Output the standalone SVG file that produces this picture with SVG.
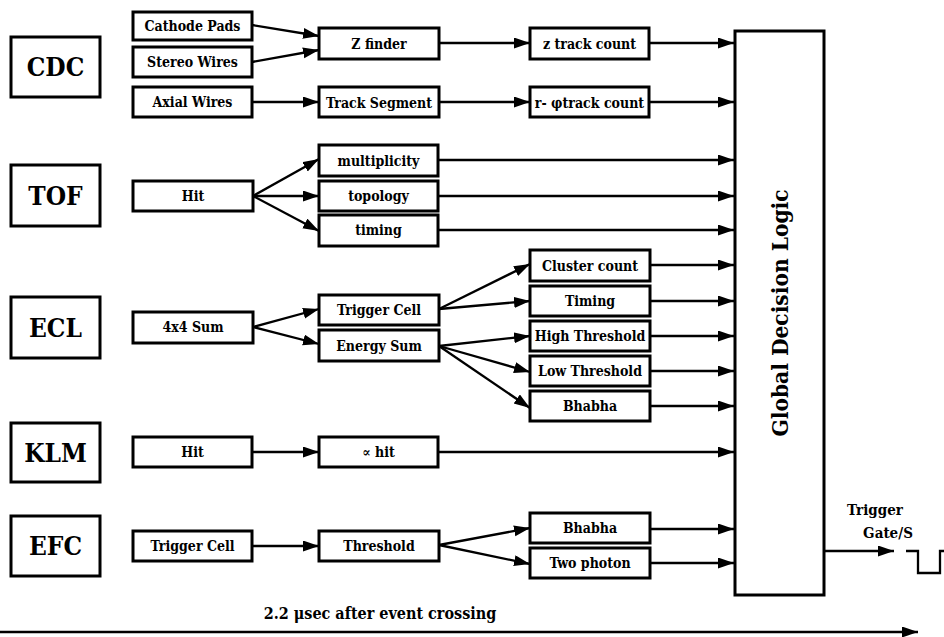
<svg xmlns="http://www.w3.org/2000/svg" width="944" height="637" viewBox="0 0 944 637">
<defs>
<marker id="ah" markerUnits="userSpaceOnUse" markerWidth="17" markerHeight="12" refX="16" refY="5.5" orient="auto">
<path d="M0,0 L16,5.5 L0,11 z" fill="#000"/>
</marker>
<style>
rect{fill:#fff;stroke:#000;stroke-width:3}
text{font-family:'DejaVu Serif Condensed','DejaVu Serif',serif;font-weight:bold}
.det{font-size:26px;text-anchor:middle}
.lb{font-size:14px;text-anchor:middle}
.c line,.c path{stroke:#000;stroke-width:2.3;fill:none}
.c .a{marker-end:url(#ah)}
</style>
</defs>
<rect x="0" y="0" width="944" height="637" style="fill:#fff;stroke:none"/>

<g id="CDC"><rect x="11" y="37" width="89" height="60"/><text class="det" x="55.5" y="76">CDC</text></g>
<g id="cathode"><rect x="133" y="12" width="119" height="28"/><text class="lb" x="192.5" y="31">Cathode Pads</text></g>
<g id="stereo"><rect x="133" y="47" width="119" height="30"/><text class="lb" x="192.5" y="67">Stereo Wires</text></g>
<g id="axial"><rect x="133" y="87" width="119" height="30"/><text class="lb" x="192.5" y="107">Axial Wires</text></g>
<g id="zfinder"><rect x="319" y="28" width="120" height="31"/><text class="lb" x="379" y="49">Z finder</text></g>
<g id="trackseg"><rect x="319" y="87" width="120" height="30"/><text class="lb" x="379" y="108">Track Segment</text></g>
<g id="ztrack"><rect x="530" y="28" width="119" height="31"/><text class="lb" x="589.5" y="49">z track count</text></g>
<g id="rphi"><rect x="530" y="87" width="119" height="30"/><text class="lb" x="589.5" y="108">r- φtrack count</text></g>

<g id="TOF"><rect x="11" y="165" width="89" height="61"/><text class="det" x="55.5" y="205">TOF</text></g>
<g id="tofhit"><rect x="133" y="181" width="120" height="30"/><text class="lb" x="193" y="201">Hit</text></g>
<g id="mult"><rect x="319" y="145" width="119" height="31"/><text class="lb" x="378.5" y="166">multiplicity</text></g>
<g id="topo"><rect x="319" y="181" width="119" height="30"/><text class="lb" x="378.5" y="201">topology</text></g>
<g id="timing"><rect x="319" y="215" width="119" height="31"/><text class="lb" x="378.5" y="235">timing</text></g>

<g id="ECL"><rect x="11" y="297" width="89" height="61"/><text class="det" x="55.5" y="337">ECL</text></g>
<g id="sum4"><rect x="133" y="312" width="120" height="31"/><text class="lb" x="193" y="332">4x4 Sum</text></g>
<g id="trigcell"><rect x="319" y="295" width="120" height="30"/><text class="lb" x="379" y="315">Trigger Cell</text></g>
<g id="esum"><rect x="319" y="330" width="120" height="31"/><text class="lb" x="379" y="351">Energy Sum</text></g>
<g id="cluster"><rect x="530" y="250" width="120" height="31"/><text class="lb" x="590" y="271">Cluster count</text></g>
<g id="ecltiming"><rect x="530" y="286" width="120" height="30"/><text class="lb" x="590" y="306">Timing</text></g>
<g id="high"><rect x="530" y="321" width="120" height="30"/><text class="lb" x="590" y="341">High Threshold</text></g>
<g id="low"><rect x="530" y="356" width="120" height="30"/><text class="lb" x="590" y="376">Low Threshold</text></g>
<g id="eclbhabha"><rect x="530" y="391" width="120" height="30"/><text class="lb" x="590" y="411">Bhabha</text></g>

<g id="KLM"><rect x="11" y="423" width="89" height="59"/><text class="det" x="55.5" y="462">KLM</text></g>
<g id="klmhit"><rect x="133" y="437" width="119" height="30"/><text class="lb" x="192.5" y="457">Hit</text></g>
<g id="prophit"><rect x="319" y="437" width="119" height="30"/><text class="lb" x="378.5" y="457">∝ hit</text></g>

<g id="EFC"><rect x="11" y="516" width="89" height="60"/><text class="det" x="55.5" y="555">EFC</text></g>
<g id="efctrig"><rect x="133" y="531" width="119" height="30"/><text class="lb" x="192.5" y="551">Trigger Cell</text></g>
<g id="thresh"><rect x="319" y="531" width="120" height="30"/><text class="lb" x="379" y="551">Threshold</text></g>
<g id="efcbhabha"><rect x="530" y="513" width="120" height="30"/><text class="lb" x="590" y="533">Bhabha</text></g>
<g id="twophoton"><rect x="530" y="548" width="120" height="30"/><text class="lb" x="590" y="568">Two photon</text></g>

<g id="GDL"><rect x="735" y="31" width="89" height="564"/><text class="det" style="font-size:22.5px" transform="translate(788,313) rotate(-90)">Global Decision Logic</text></g>

<g id="connectors" class="c">
<line class="a" x1="252" y1="25" x2="319" y2="36"/>
<line class="a" x1="252" y1="62" x2="319" y2="50"/>
<line class="a" x1="252" y1="102" x2="319" y2="102"/>
<line class="a" x1="439" y1="43" x2="530" y2="43"/>
<line class="a" x1="439" y1="102" x2="530" y2="102"/>
<line class="a" x1="649" y1="43" x2="734" y2="43"/>
<line class="a" x1="649" y1="102" x2="734" y2="102"/>

<line class="a" x1="253" y1="196" x2="319" y2="159"/>
<line class="a" x1="253" y1="196" x2="319" y2="196"/>
<line class="a" x1="253" y1="196" x2="319" y2="231"/>
<line class="a" x1="438" y1="160" x2="734" y2="160"/>
<line class="a" x1="438" y1="196" x2="734" y2="196"/>
<line class="a" x1="438" y1="230" x2="734" y2="230"/>

<line class="a" x1="253" y1="327" x2="319" y2="309"/>
<line class="a" x1="253" y1="327" x2="319" y2="344"/>
<line class="a" x1="439" y1="309" x2="530" y2="264"/>
<line class="a" x1="439" y1="309" x2="530" y2="301"/>
<line class="a" x1="439" y1="346" x2="530" y2="336"/>
<line class="a" x1="439" y1="346" x2="530" y2="372"/>
<line class="a" x1="439" y1="346" x2="530" y2="408"/>
<line class="a" x1="650" y1="265" x2="734" y2="265"/>
<line class="a" x1="650" y1="301" x2="734" y2="301"/>
<line class="a" x1="650" y1="336" x2="734" y2="336"/>
<line class="a" x1="650" y1="371" x2="734" y2="371"/>
<line class="a" x1="650" y1="406" x2="734" y2="406"/>

<line class="a" x1="252" y1="452" x2="319" y2="452"/>
<line class="a" x1="438" y1="452" x2="734" y2="452"/>

<line class="a" x1="252" y1="546" x2="319" y2="546"/>
<line class="a" x1="439" y1="545" x2="530" y2="528"/>
<line class="a" x1="439" y1="545" x2="530" y2="564"/>
<line class="a" x1="650" y1="529" x2="734" y2="529"/>
<line class="a" x1="650" y1="563" x2="734" y2="563"/>

<line class="a" x1="824" y1="551" x2="894" y2="551"/>
<path d="M906,551 H918 V573 H940 V551 H944"/>
<line class="a" x1="0" y1="632" x2="918" y2="632"/>
</g>

<text class="lb" x="875" y="515" style="font-size:15px">Trigger</text>
<text class="lb" x="888" y="538" style="font-size:15px">Gate/S</text>
<text class="lb" x="380" y="619" style="font-size:16px">2.2 μsec after event crossing</text>
</svg>
